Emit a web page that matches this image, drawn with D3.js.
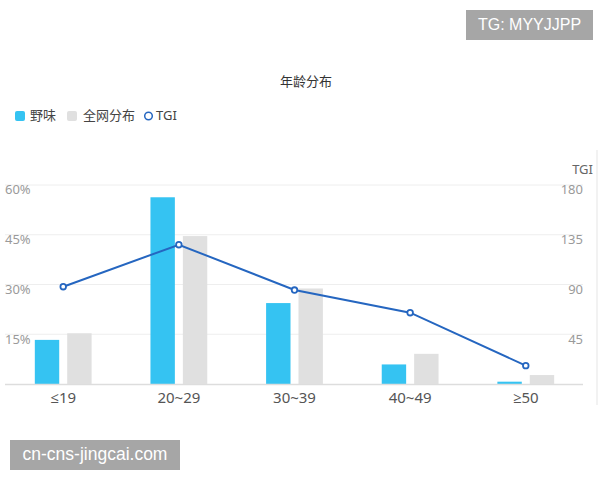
<!DOCTYPE html>
<html><head><meta charset="utf-8">
<script src="https://cdn.jsdelivr.net/npm/d3@7"></script>
<style>body{margin:0;background:#fff}svg{display:block}</style>
</head><body>
<svg id="c" width="600" height="480"></svg>
<script>
const categories = ["≤19", "20~29", "30~39", "40~49", "≥50"];
const yewei = [13.3, 56.3, 24.4, 5.9, 0.7];
const quanwang = [15.3, 44.6, 28.8, 9.1, 2.7];
const tgi = [88, 126, 85, 64.5, 16.6];
const leftTicks = [15, 30, 45, 60];
const rightTicks = [45, 90, 135, 180];

const svg = d3.select("#c");
const font = "'Microsoft YaHei','Noto Sans CJK SC','Noto Sans',sans-serif";
const latin = "'Noto Sans','Open Sans',sans-serif";

const x = d3.scaleBand().domain(categories).range([5.4, 583.6]);
const yL = d3.scaleLinear().domain([0, 60]).range([384, 185]);
const yR = d3.scaleLinear().domain([0, 180]).range([384, 185]);
const barW = 24.4, gap = 8;

// gridlines
svg.append("g").selectAll("line").data(leftTicks).join("line")
  .attr("x1", 5).attr("x2", 583).attr("y1", d => yL(d)).attr("y2", d => yL(d))
  .attr("stroke", "#eeeeee").attr("stroke-width", 1);

// left labels
svg.append("g").selectAll("text").data(leftTicks).join("text")
  .attr("x", 5).attr("y", d => yL(d) + 6).attr("dominant-baseline", "middle")
  .attr("font-family", latin).attr("font-size", 13).attr("fill", "#9a9a9a")
  .text(d => d + "%");
// right labels
svg.append("g").selectAll("text").data(rightTicks).join("text")
  .attr("x", 583).attr("y", d => yR(d) + 6).attr("dominant-baseline", "middle")
  .attr("text-anchor", "end")
  .attr("font-family", latin).attr("font-size", 13).attr("fill", "#9a9a9a")
  .text(d => d);
svg.append("text").attr("x", 593).attr("y", 171).attr("dominant-baseline", "middle")
  .attr("text-anchor", "end").attr("font-family", latin).attr("font-size", 13)
  .attr("fill", "#666").text("TGI");

// bars
const cx = c => x(c) + x.bandwidth() / 2;
svg.append("g").selectAll("rect").data(categories).join("rect")
  .attr("x", d => cx(d) - gap / 2 - barW).attr("width", barW)
  .attr("y", (d, i) => yL(yewei[i])).attr("height", (d, i) => yL(0) - yL(yewei[i]))
  .attr("fill", "#35c3f2");
svg.append("g").selectAll("rect").data(categories).join("rect")
  .attr("x", d => cx(d) + gap / 2).attr("width", barW)
  .attr("y", (d, i) => yL(quanwang[i])).attr("height", (d, i) => yL(0) - yL(quanwang[i]))
  .attr("fill", "#e0e0e0");

// x axis line
svg.append("line").attr("x1", 5).attr("x2", 583).attr("y1", 384.5).attr("y2", 384.5)
  .attr("stroke", "#dddddd").attr("stroke-width", 1.5);
svg.append("g").selectAll("text").data(categories).join("text")
  .attr("x", d => cx(d)).attr("y", 399).attr("dominant-baseline", "middle")
  .attr("text-anchor", "middle").attr("font-family", latin).attr("font-size", 15)
  .attr("fill", "#555").text(d => d);

// TGI line
const line = d3.line().x((d, i) => cx(categories[i])).y(d => yR(d));
svg.append("path").datum(tgi).attr("d", line).attr("fill", "none")
  .attr("stroke", "#2566c0").attr("stroke-width", 2);
svg.append("g").selectAll("circle").data(tgi).join("circle")
  .attr("cx", (d, i) => cx(categories[i])).attr("cy", d => yR(d)).attr("r", 2.8)
  .attr("fill", "#fff").attr("stroke", "#2566c0").attr("stroke-width", 1.8);

// right edge border
svg.append("line").attr("x1", 597).attr("x2", 597).attr("y1", 150).attr("y2", 405)
  .attr("stroke", "#eeeeee").attr("stroke-width", 1.5);

// title
svg.append("text").attr("x", 306).attr("y", 82).attr("dominant-baseline", "middle")
  .attr("text-anchor", "middle").attr("font-family", font).attr("font-size", 13)
  .attr("fill", "#333").text("年龄分布");

// legend
const lg = svg.append("g").attr("font-family", font).attr("font-size", 13).attr("fill", "#444");
lg.append("rect").attr("x", 15).attr("y", 111).attr("width", 10).attr("height", 10).attr("rx", 2).attr("fill", "#35c3f2");
lg.append("text").attr("x", 30).attr("y", 116.5).attr("dominant-baseline", "middle").text("野味");
lg.append("rect").attr("x", 67).attr("y", 111).attr("width", 10).attr("height", 10).attr("rx", 2).attr("fill", "#e0e0e0");
lg.append("text").attr("x", 83).attr("y", 116.5).attr("dominant-baseline", "middle").text("全网分布");
lg.append("circle").attr("cx", 148.5).attr("cy", 116).attr("r", 3.8).attr("fill", "#fff")
  .attr("stroke", "#2566c0").attr("stroke-width", 1.5);
lg.append("text").attr("x", 156).attr("y", 116.5).attr("dominant-baseline", "middle")
  .attr("font-family", latin).text("TGI");

// watermark boxes
svg.append("rect").attr("x", 466).attr("y", 10).attr("width", 127).attr("height", 30).attr("fill", "#a6a6a6");
svg.append("text").attr("x", 529.5).attr("y", 25.5).attr("dominant-baseline", "middle")
  .attr("text-anchor", "middle").attr("font-family", "'Liberation Sans',Arial,sans-serif")
  .attr("font-size", 16).attr("fill", "#fff").text("TG: MYYJJPP");
svg.append("rect").attr("x", 10).attr("y", 440).attr("width", 170).attr("height", 30).attr("fill", "#a6a6a6");
svg.append("text").attr("x", 95).attr("y", 455.5).attr("dominant-baseline", "middle")
  .attr("text-anchor", "middle").attr("font-family", "'Liberation Sans',Arial,sans-serif")
  .attr("font-size", 17.5).attr("fill", "#fff").text("cn-cns-jingcai.com");
</script>
</body></html>
